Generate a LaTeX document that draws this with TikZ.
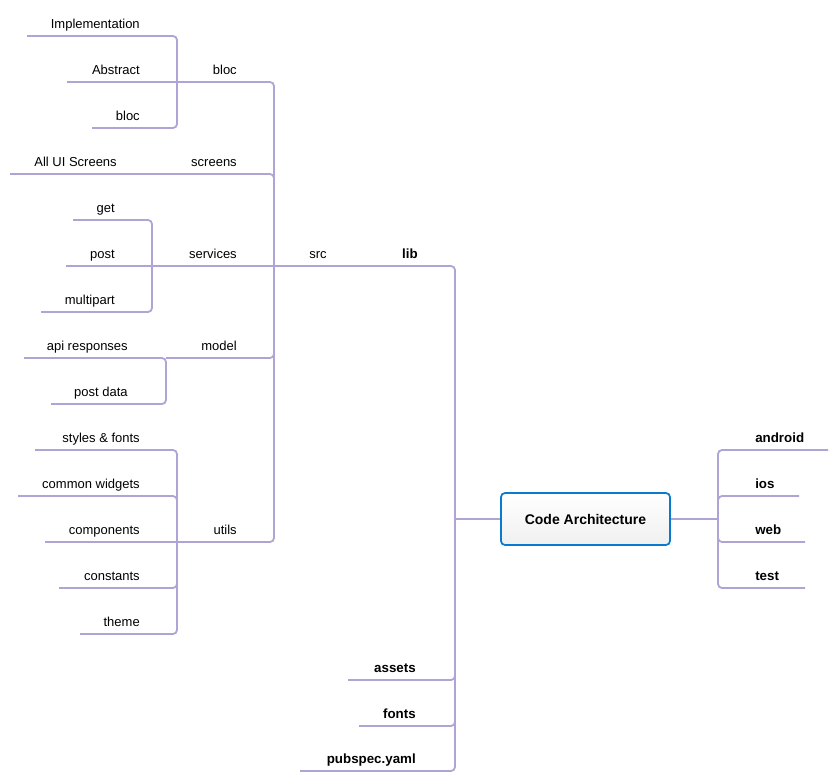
\documentclass[tikz,border=0pt]{standalone}
\usepackage{fontspec}
\setmainfont{Liberation Sans}
\usepackage{tikz}
\usetikzlibrary{calc}
\definecolor{lav}{HTML}{B0A3D6}
\definecolor{rootblue}{HTML}{0A7AD0}

\begin{document}
\begin{tikzpicture}[x=0.75pt, y=-0.75pt,
        branch/.style={draw=lav,line width=1.35pt,rounded corners=3pt},
        leaf/.style={inner sep=0pt,font=\fontsize{9.75}{12}\selectfont,anchor=base east},
        topic/.style={inner sep=0pt,font=\fontsize{10}{12}\selectfont\bfseries,anchor=base east},
        rtopic/.style={topic,anchor=base west},
        root/.style={rectangle,rounded corners=3pt,draw=rootblue,line width=1.3pt,
          top color=white,bottom color=black!6,minimum width=126.75pt,minimum height=39pt,
          font=\fontsize{10.5}{12}\selectfont\bfseries}]
        \useasboundingbox (0,0) rectangle (838,782);
        \node[root] at (585.5,519) (code) {Code Architecture};
        % junctions
        \coordinate (trunk) at (455,519);
        \coordinate (rj) at (718,519);
        \coordinate (srcJ) at (274,266);
        \coordinate (blocJ) at (177,82);
        \coordinate (servJ) at (152,266);
        \coordinate (modelJ) at (166,358);
        \coordinate (utilsJ) at (177,542);
        % free ends
        \coordinate (andE) at (828,450);
        \coordinate (iosE) at (799,496);
        \coordinate (webE) at (805,542);
        \coordinate (testE) at (805,588);
        \coordinate (assetsE) at (348,680);
        \coordinate (fontsE) at (359,726);
        \coordinate (pubE) at (300,771);
        \coordinate (implE) at (27,36);
        \coordinate (absE) at (67,82);
        \coordinate (bloctwoE) at (92,128);
        \coordinate (uiE) at (10,174);
        \coordinate (getE) at (73,220);
        \coordinate (postE) at (66,266);
        \coordinate (multiE) at (41,312);
        \coordinate (apiE) at (24,358);
        \coordinate (pdE) at (51,404);
        \coordinate (stylesE) at (35,450);
        \coordinate (cwE) at (18,496);
        \coordinate (compE) at (45,542);
        \coordinate (constE) at (59,588);
        \coordinate (themeE) at (80,634);
        % right side
        \draw[branch] (code.east) -- (rj);
        \draw[branch] (andE) -| (rj) |- (testE);
        \draw[branch] (iosE) -| (rj);
        \draw[branch] (webE) -| (rj);
        \node[rtopic] at (755,442) (android) {android};
        \node[rtopic] at (755,488) (ios) {ios};
        \node[rtopic] at (755,534) (web) {web};
        \node[rtopic] at (755,580) (test) {test};
        % left trunk
        \draw[branch] (code.west) -- (trunk);
        \draw[branch] (postE) -- (servJ) -- (srcJ) -| (trunk) |- (pubE);
        \draw[branch] (assetsE) -| (trunk);
        \draw[branch] (fontsE) -| (trunk);
        \node[topic] at (418,258) (lib) {lib};
        \node[topic] at (416,672) (assets) {assets};
        \node[topic] at (416,718) (fonts) {fonts};
        \node[topic] at (416,763) (pubspec) {pubspec.yaml};
        % src
        \draw[branch] (blocJ) -| (srcJ);
        \draw[branch] (uiE) -| (srcJ);
        \draw[branch] (modelJ) -| (srcJ);
        \draw[branch] (utilsJ) -| (srcJ);
        \node[leaf] at (327,258) (src) {src};
        \node[leaf] at (237,74) (bloc) {bloc};
        \node[leaf] at (237,166) (screens) {screens};
        \node[leaf] at (237,258) (services) {services};
        \node[leaf] at (237,350) (model) {model};
        \node[leaf] at (237,534) (utils) {utils};
        % bloc
        \draw[branch] (implE) -| (blocJ) |- (bloctwoE);
        \draw[branch] (absE) -- (blocJ);
        \node[leaf] at (140,28) (impl) {Implementation};
        \node[leaf] at (140,74) (abstract) {Abstract};
        \node[leaf] at (140,120) (bloctwo) {bloc};
        % screens
        \node[leaf] at (117,166) (allui) {All UI Screens};
        % services
        \draw[branch] (getE) -| (servJ) |- (multiE);
        \node[leaf] at (115,212) (get) {get};
        \node[leaf] at (115,258) (post) {post};
        \node[leaf] at (115,304) (multipart) {multipart};
        % model
        \draw[branch] (apiE) -- (modelJ) |- (pdE);
        \node[leaf] at (128,350) (api) {api responses};
        \node[leaf] at (128,396) (postdata) {post data};
        % utils
        \draw[branch] (stylesE) -| (utilsJ) |- (themeE);
        \draw[branch] (cwE) -| (utilsJ);
        \draw[branch] (compE) -- (utilsJ);
        \draw[branch] (constE) -| (utilsJ);
        \node[leaf] at (140,442) (styles) {styles \& fonts};
        \node[leaf] at (140,488) (widgets) {common widgets};
        \node[leaf] at (140,534) (components) {components};
        \node[leaf] at (140,580) (constants) {constants};
        \node[leaf] at (140,626) (theme) {theme};
\end{tikzpicture}
\end{document}
